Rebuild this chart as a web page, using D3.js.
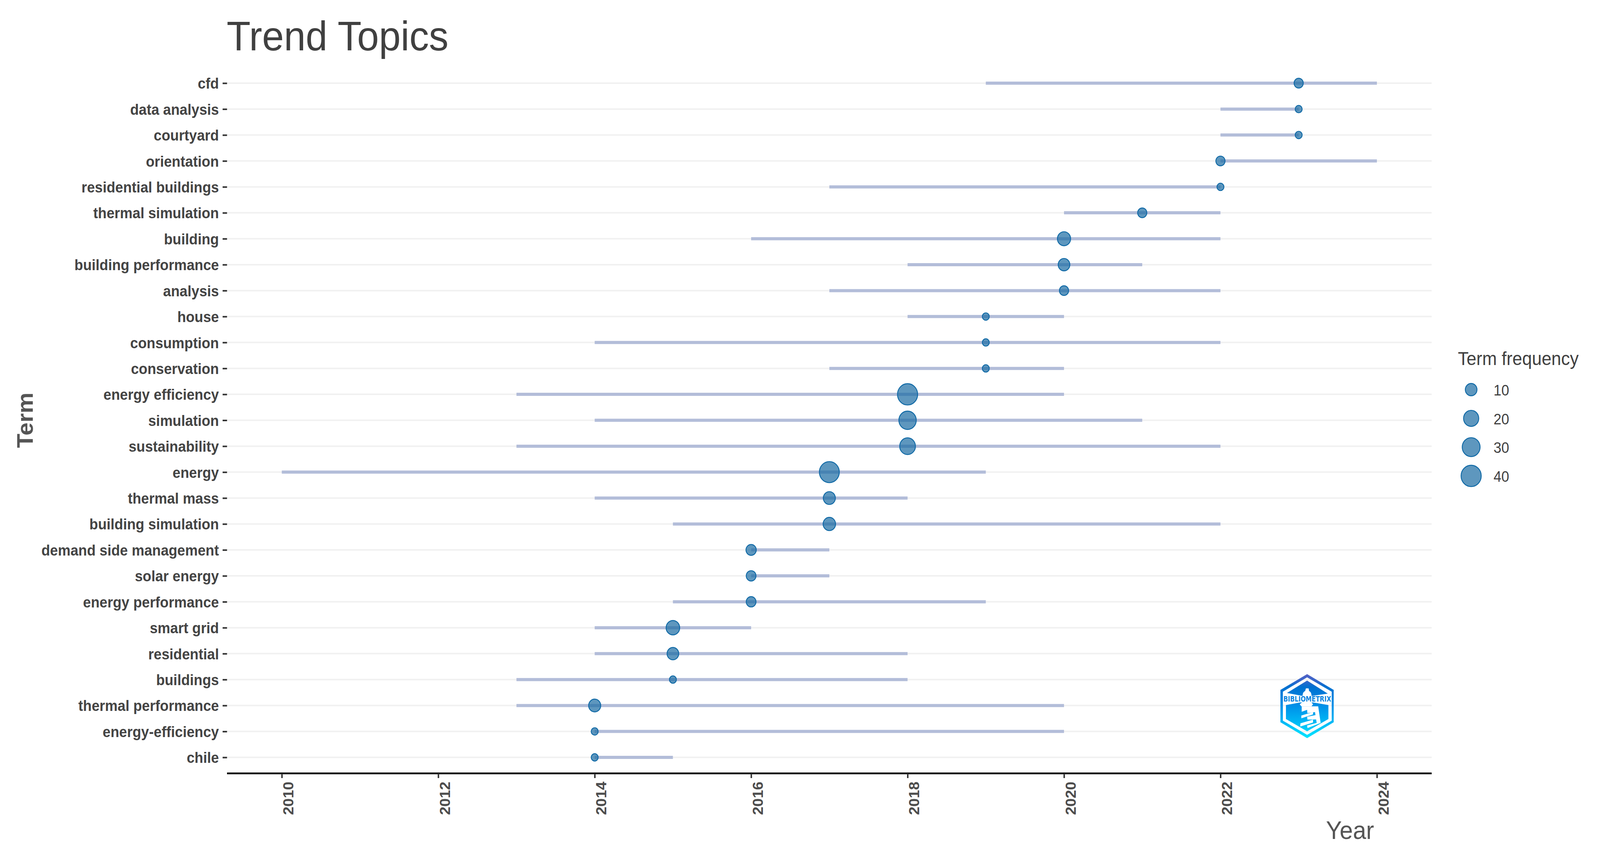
<!DOCTYPE html>
<html>
<head>
<meta charset="utf-8">
<title>Trend Topics</title>
<script src="https://cdn.jsdelivr.net/npm/d3@7/dist/d3.min.js"></script>
<style>
html,body{margin:0;padding:0;background:#fff;overflow:hidden;}
svg{display:block;width:100vw;height:100vh;}
text{font-family:"Liberation Sans",Arial,sans-serif;}
</style>
</head>
<body>
<script>
const terms = ["cfd","data analysis","courtyard","orientation","residential buildings","thermal simulation","building","building performance","analysis","house","consumption","conservation","energy efficiency","simulation","sustainability","energy","thermal mass","building simulation","demand side management","solar energy","energy performance","smart grid","residential","buildings","thermal performance","energy-efficiency","chile"];
const yearQ1 =     [2019,2022,2022,2022,2017,2020,2016,2018,2017,2018,2014,2017,2013,2014,2013,2010,2014,2015,2016,2016,2015,2014,2014,2013,2013,2014,2014];
const yearMedian = [2023,2023,2023,2022,2022,2021,2020,2020,2020,2019,2019,2019,2018,2018,2018,2017,2017,2017,2016,2016,2016,2015,2015,2015,2014,2014,2014];
const yearQ3 =     [2024,2023,2023,2024,2022,2022,2022,2021,2022,2020,2022,2020,2020,2021,2022,2019,2018,2022,2017,2017,2019,2016,2018,2018,2020,2020,2015];
const termFreq =   [5,2,2,5,2,5,14,10,5,2,2,2,40,28,22,39,11,12,7,6,6,15,10,2,11,2,2];
const yearTicks = [2010,2012,2014,2016,2018,2020,2022,2024];
const legendValues = [10,20,30,40];

const W = 4334, H = 2208;
const svg = d3.select("body").append("svg")
  .attr("viewBox",`0 0 ${W} ${H}`).attr("preserveAspectRatio","none");
svg.append("rect").attr("width",W).attr("height",H).attr("fill","#fff");

const x = d3.scaleLinear().domain([2009.3,2024.7]).range([615,3878]);
const y = d3.scalePoint().domain(terms).range([213,1940]);
const r = d3.scaleSqrt().domain([10,40]).range([15.8,27.3]);
const axisY = 1981;

const rows = terms.map((t,i)=>({term:t,q1:yearQ1[i],med:yearMedian[i],q3:yearQ3[i],freq:termFreq[i]}));

// grid
svg.append("g").selectAll("line").data(terms).join("line")
  .attr("x1",x.range()[0]).attr("x2",x.range()[1])
  .attr("y1",d=>y(d)).attr("y2",d=>y(d))
  .attr("stroke","#f1f1f1").attr("stroke-width",4);

// range segments
svg.append("g").selectAll("line").data(rows).join("line")
  .attr("x1",d=>x(d.q1)).attr("x2",d=>x(d.q3))
  .attr("y1",d=>y(d.term)).attr("y2",d=>y(d.term))
  .attr("stroke","#b3bdd9").attr("stroke-width",8);

const pointStyle = s => s.attr("fill","rgba(26,107,163,0.7)").attr("stroke","#0f69a6").attr("stroke-width",2.4);

// points
svg.append("g").selectAll("circle").data(rows).join("circle")
  .attr("cx",d=>x(d.med)).attr("cy",d=>y(d.term)).attr("r",d=>r(d.freq))
  .call(pointStyle);

// y axis
const gy = svg.append("g").attr("transform","translate(615,0)")
  .call(d3.axisLeft(y).tickSize(12).tickPadding(10));
gy.select(".domain").remove();
gy.selectAll(".tick line").attr("stroke","#333").attr("stroke-width",4);
gy.selectAll(".tick text").attr("font-family","'Liberation Sans',Arial,sans-serif")
  .attr("font-size",38.3).attr("font-weight","bold").attr("fill","#444").attr("dy","0.36em");

// x axis
const gx = svg.append("g").attr("transform",`translate(0,${axisY})`)
  .call(d3.axisBottom(x).tickValues(yearTicks).tickFormat(d3.format("d")).tickSize(12));
gx.select(".domain").attr("d",`M${x.range()[0]},0H${x.range()[1]}`).attr("stroke","#000").attr("stroke-width",4.5);
gx.selectAll(".tick line").attr("stroke","#333").attr("stroke-width",4);
gx.selectAll(".tick text").attr("font-family","'Liberation Sans',Arial,sans-serif")
  .attr("font-size",38.5).attr("font-weight","bold").attr("fill","#4d4d4d")
  .attr("text-anchor","end").attr("dy",null)
  .attr("transform","translate(31,21) rotate(-90)").attr("x",0).attr("y",0);

// titles
svg.append("text").attr("x",614).attr("y",129).attr("font-size",106).attr("fill","#404040").text("Trend Topics");
svg.append("text").attr("x",3722).attr("y",2149).attr("text-anchor","end").attr("font-size",64.5).attr("fill","#555").text("Year");
svg.append("text").attr("transform","translate(89,1076.5) rotate(-90)").attr("text-anchor","middle")
  .attr("font-size",60).attr("font-weight","bold").attr("fill","#555").text("Term");

// legend
svg.append("text").attr("x",3949).attr("y",935).attr("font-size",47.5).attr("fill","#404040").text("Term frequency");
const legendY = d3.scalePoint().domain(legendValues).range([998,1219]);
const lg = svg.append("g").selectAll("g").data(legendValues).join("g");
lg.append("circle").attr("cx",3985).attr("cy",d=>legendY(d)).attr("r",d=>r(d)).call(pointStyle);
lg.append("text").attr("x",4088).attr("y",d=>legendY(d)+15).attr("text-anchor","end")
  .attr("font-size",38).attr("fill","#404040").text(d=>d);

// Bibliometrix logo
const defs = svg.append("defs");
const grad = defs.append("linearGradient").attr("id","logoGrad").attr("gradientUnits","userSpaceOnUse")
  .attr("x1",0).attr("x2",0).attr("y1",140).attr("y2",632);
[[0,"#5560c4"],[0.12,"#2f68cc"],[0.2,"#0070d0"],[0.5,"#0090e8"],[0.75,"#00b8f5"],[1,"#00e6ff"]]
  .forEach(([o,c])=>grad.append("stop").attr("offset",o).attr("stop-color",c));
const logo = svg.append("g").attr("transform","translate(3400,1680) scale(0.3333)");
logo.append("path").attr("fill","url(#logoGrad)").attr("fill-rule","evenodd")
  .attr("d","M422,140L638,262V510L422,632L205,510V262Z M422,165L622,275V498L422,607L225,498V275Z");
logo.append("path").attr("fill","url(#logoGrad)")
  .attr("d","M422,190L590,290L458,308H385L258,285Z M250,378L365,358H470L595,378V485L422,580L250,485Z");
// lighthouse
logo.append("path").attr("fill","#fff")
  .attr("d","M412,250H434L438,270Q458,278 458,310L385,310Q385,278 406,270Z");
logo.append("path").attr("fill","#fff")
  .attr("d","M362,372L388,352H452L470,372L458,388L375,388Z");
logo.append("path").attr("fill","#fff")
  .attr("d","M378,388H512L532,515L425,555L422,535L500,515L495,488L425,490L422,468L490,455L486,432L424,440L422,415L378,430Z");
logo.append("path").attr("fill","#fff")
  .attr("d","M375,458L470,432V450L375,480Z M368,518L470,490V512L366,543Z");
logo.append("text").attr("x",423).attr("y",352).attr("text-anchor","middle")
  .attr("textLength",388).attr("lengthAdjust","spacingAndGlyphs")
  .attr("font-size",58).attr("font-weight","bold").attr("fill","#0a84e0")
  .style("font-family","'DejaVu Sans',sans-serif").text("BIBLIOMETRIX");
</script>
</body>
</html>
